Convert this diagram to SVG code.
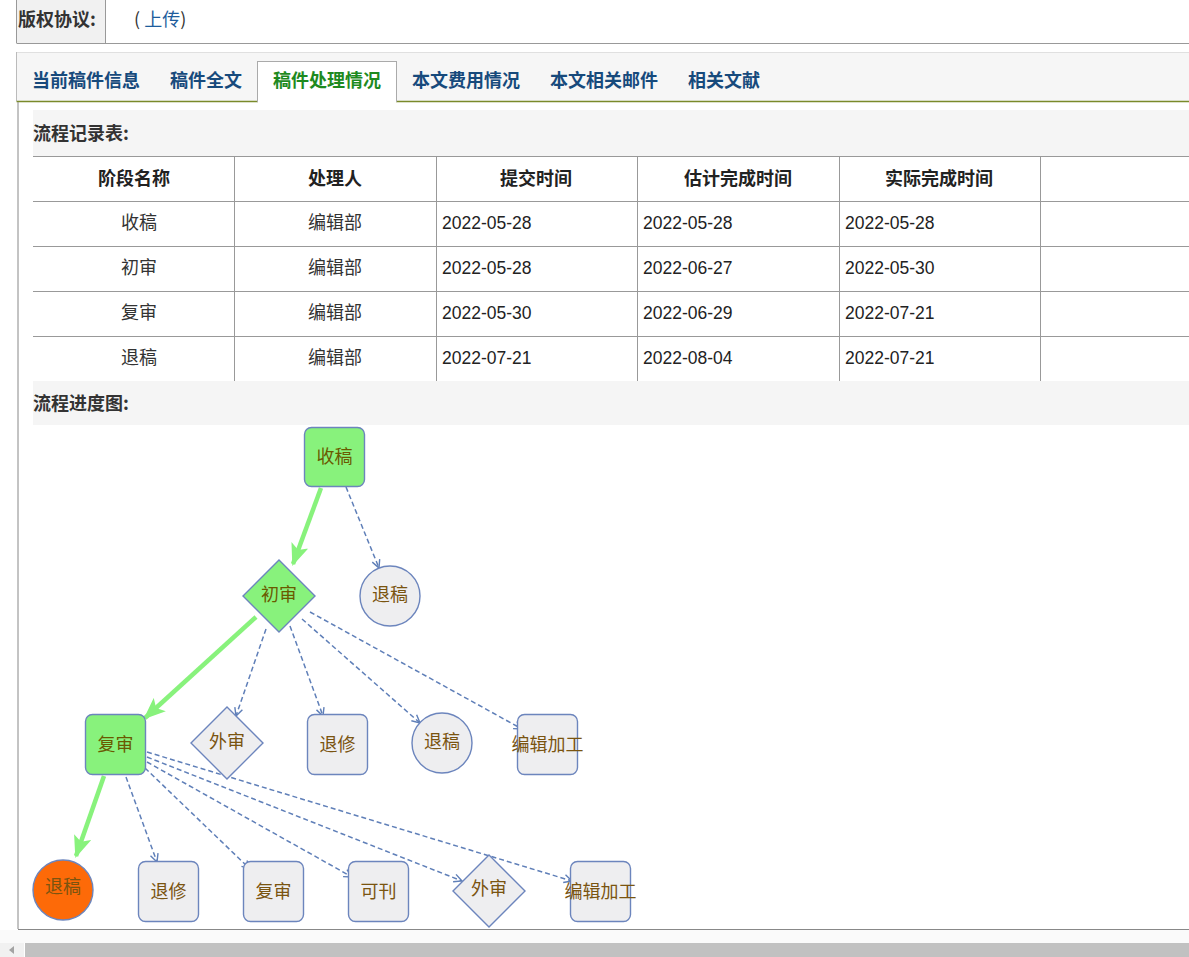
<svg xmlns="http://www.w3.org/2000/svg" width="1189" height="957" viewBox="0 0 1189 957">
<style>
text{font-family:"Noto Sans CJK SC","Liberation Sans",sans-serif;}
.lbl{font-size:18px;fill:#333;font-weight:bold;}
.tab{font-size:18px;font-weight:bold;fill:#174a7c;}
.th{font-size:18px;font-weight:bold;fill:#222;text-anchor:middle;}
.td{font-size:18px;fill:#333;text-anchor:middle;}
.dt{font-size:17.5px;fill:#222;font-family:"Liberation Sans",Arial,sans-serif;}
.grid{stroke:#999;stroke-width:1;}
.ng{fill:#88f27c;stroke:#6c85bd;stroke-width:1.4;}
.nx{fill:#eeeef0;stroke:#6c85bd;stroke-width:1.4;}
.no{fill:#fd6a08;stroke:#6c85bd;stroke-width:1.4;}
.nt{font-size:18px;fill:#7a5410;text-anchor:middle;}
.ntg{font-size:18px;fill:#6a5a00;text-anchor:middle;}
.dash{fill:none;stroke:#5f7fb8;stroke-width:1.5;stroke-dasharray:5 3;marker-end:url(#open);}
.main{fill:none;stroke:#88f27c;stroke-width:4.5;marker-end:url(#fill);}
</style>
<defs>
<marker id="open" viewBox="0 0 10 10" refX="9" refY="5" markerWidth="10" markerHeight="10" markerUnits="userSpaceOnUse" orient="auto">
<path d="M1,1 L9,5 L1,9" fill="none" stroke="#5f7fb8" stroke-width="1.4"/>
</marker>
<marker id="fill" viewBox="0 0 22 18" refX="20" refY="9" markerWidth="22" markerHeight="18" markerUnits="userSpaceOnUse" orient="auto">
<path d="M0,0 L22,9 L0,18 L5,9 Z" fill="#88f27c"/>
</marker>
</defs>
<rect width="1189" height="957" fill="#fff"/>
<!-- top copyright row -->
<g id="copyright">
<rect x="16.5" y="0" width="88.5" height="43" fill="#f1f1f1"/>
<line x1="16.5" y1="0" x2="16.5" y2="43" stroke="#999"/>
<line x1="105.5" y1="0" x2="105.5" y2="43" stroke="#999"/>
<line x1="16.5" y1="43.5" x2="1189" y2="43.5" stroke="#999"/>
<text class="lbl" x="18" y="26">版权协议:</text>
<text x="134" y="26" font-size="18" fill="#333">(<tspan fill="#1d5c9c"> 上传</tspan>)</text>
</g>
<!-- tabs -->
<g id="tabs">
<rect x="16.5" y="52" width="1172.5" height="49" fill="#f6f6f6"/>
<line x1="16.5" y1="52.5" x2="1189" y2="52.5" stroke="#e0e0e0"/>
<line x1="16.5" y1="52" x2="16.5" y2="101" stroke="#bbb"/>
<line x1="16.5" y1="101.5" x2="1189" y2="101.5" stroke="#7a8a2a" stroke-width="1.5"/>
<rect x="257.5" y="61.5" width="139" height="40" fill="#fff" stroke="#aaa"/>
<rect x="258" y="100" width="138" height="3" fill="#fff"/>
<text class="tab" x="32" y="87">当前稿件信息</text>
<text class="tab" x="170" y="87">稿件全文</text>
<text class="tab" x="273" y="87" style="fill:#1e8a1e">稿件处理情况</text>
<text class="tab" x="412" y="87">本文费用情况</text>
<text class="tab" x="550" y="87">本文相关邮件</text>
<text class="tab" x="688" y="87">相关文献</text>
</g>
<!-- content frame -->
<g id="frame">
<line x1="18" y1="102" x2="18" y2="929" stroke="#888"/>
<line x1="18" y1="929.5" x2="1189" y2="929.5" stroke="#888"/>
</g>
<!-- table -->
<g id="table">
<rect x="33" y="110" width="1156" height="46" fill="#f5f5f5"/>
<text class="lbl" x="33" y="140">流程记录表:</text>
<g class="grid">
<line x1="33" y1="156.5" x2="1189" y2="156.5"/>
<line x1="33" y1="201.5" x2="1189" y2="201.5"/>
<line x1="33" y1="246.5" x2="1189" y2="246.5"/>
<line x1="33" y1="291.5" x2="1189" y2="291.5"/>
<line x1="33" y1="336.5" x2="1189" y2="336.5"/>
<line x1="234.5" y1="156" x2="234.5" y2="381"/>
<line x1="436.5" y1="156" x2="436.5" y2="381"/>
<line x1="637.5" y1="156" x2="637.5" y2="381"/>
<line x1="839.5" y1="156" x2="839.5" y2="381"/>
<line x1="1040.5" y1="156" x2="1040.5" y2="381"/>
</g>
<text class="th" x="134" y="185">阶段名称</text>
<text class="th" x="335" y="185">处理人</text>
<text class="th" x="536" y="185">提交时间</text>
<text class="th" x="738" y="185">估计完成时间</text>
<text class="th" x="939" y="185">实际完成时间</text>
<text class="td" x="139" y="229">收稿</text>
<text class="td" x="335" y="229">编辑部</text>
<text class="dt" x="442" y="229">2022-05-28</text>
<text class="dt" x="643" y="229">2022-05-28</text>
<text class="dt" x="845" y="229">2022-05-28</text>
<text class="td" x="139" y="274">初审</text>
<text class="td" x="335" y="274">编辑部</text>
<text class="dt" x="442" y="274">2022-05-28</text>
<text class="dt" x="643" y="274">2022-06-27</text>
<text class="dt" x="845" y="274">2022-05-30</text>
<text class="td" x="139" y="319">复审</text>
<text class="td" x="335" y="319">编辑部</text>
<text class="dt" x="442" y="319">2022-05-30</text>
<text class="dt" x="643" y="319">2022-06-29</text>
<text class="dt" x="845" y="319">2022-07-21</text>
<text class="td" x="139" y="364">退稿</text>
<text class="td" x="335" y="364">编辑部</text>
<text class="dt" x="442" y="364">2022-07-21</text>
<text class="dt" x="643" y="364">2022-08-04</text>
<text class="dt" x="845" y="364">2022-07-21</text>
<rect x="33" y="381" width="1156" height="44" fill="#f5f5f5"/>
<text class="lbl" x="33" y="410">流程进度图:</text>
</g>
<!-- connectors -->
<g id="connectors">
<path class="main" d="M321,488 L293,564"/>
<path class="main" d="M256,617 L145,718"/>
<path class="main" d="M104,776 L76,856"/>
<path class="dash" d="M346,487 L379,568"/>
<path class="dash" d="M266,629 L236,716"/>
<path class="dash" d="M290,626 L323,716"/>
<path class="dash" d="M302,619 L420,723"/>
<path class="dash" d="M310,612 L522,729"/>
<path class="dash" d="M126,777 L157,862"/>
<path class="dash" d="M145,768 L250,869"/>
<path class="dash" d="M147,762 L352,877"/>
<path class="dash" d="M147,757 L462,881"/>
<path class="dash" d="M147,752 L572,881"/>
</g>
<!-- nodes -->
<g id="n-shougao"><rect class="ng" x="304.5" y="427.5" width="60" height="59" rx="7"/><text class="ntg" x="334.5" y="463">收稿</text></g>
<g id="n-tuigao1"><circle class="nx" cx="390" cy="596" r="30"/><text class="nt" x="390" y="601">退稿</text></g>
<g id="n-chushen"><polygon class="ng" points="279,560 315,596 279,632 243,596"/><text class="ntg" x="279" y="601">初审</text></g>
<g id="n-fushen"><rect class="ng" x="85.5" y="714.5" width="60" height="60" rx="7"/><text class="ntg" x="115.5" y="751">复审</text></g>
<g id="n-waishen1"><polygon class="nx" points="227,707 263,743 227,779 191,743"/><text class="nt" x="227" y="748">外审</text></g>
<g id="n-tuixiu1"><rect class="nx" x="307.5" y="714.5" width="60" height="60" rx="7"/><text class="nt" x="337.5" y="751">退修</text></g>
<g id="n-tuigao2"><circle class="nx" cx="442" cy="743" r="30"/><text class="nt" x="442" y="748">退稿</text></g>
<g id="n-bianji1"><rect class="nx" x="517.5" y="714.5" width="60" height="60" rx="7"/><text class="nt" x="547.5" y="751">编辑加工</text></g>
<g id="n-tuigao3"><circle class="no" cx="63" cy="890" r="30"/><text class="nt" x="63" y="893">退稿</text></g>
<g id="n-tuixiu2"><rect class="nx" x="138.5" y="861.5" width="60" height="60" rx="7"/><text class="nt" x="168.5" y="898">退修</text></g>
<g id="n-fushen2"><rect class="nx" x="243.5" y="861.5" width="60" height="60" rx="7"/><text class="nt" x="273.5" y="898">复审</text></g>
<g id="n-kekan"><rect class="nx" x="348.5" y="861.5" width="60" height="60" rx="7"/><text class="nt" x="378.5" y="898">可刊</text></g>
<g id="n-waishen2"><polygon class="nx" points="489,855 525,891 489,927 453,891"/><text class="nt" x="489" y="895">外审</text></g>
<g id="n-bianji2"><rect class="nx" x="570.5" y="861.5" width="60" height="60" rx="7"/><text class="nt" x="600.5" y="898">编辑加工</text></g>
<!-- scrollbar -->
<g id="scrollbar">
<rect x="0" y="930" width="1189" height="13" fill="#fafafa"/>
<rect x="0" y="943" width="24" height="14" fill="#f1f1f1"/>
<path d="M14,946 L9,950 L14,954 Z" fill="#a3a3a3"/>
<rect x="25" y="943" width="1164" height="14" fill="#c1c1c1"/>
</g>
</svg>
